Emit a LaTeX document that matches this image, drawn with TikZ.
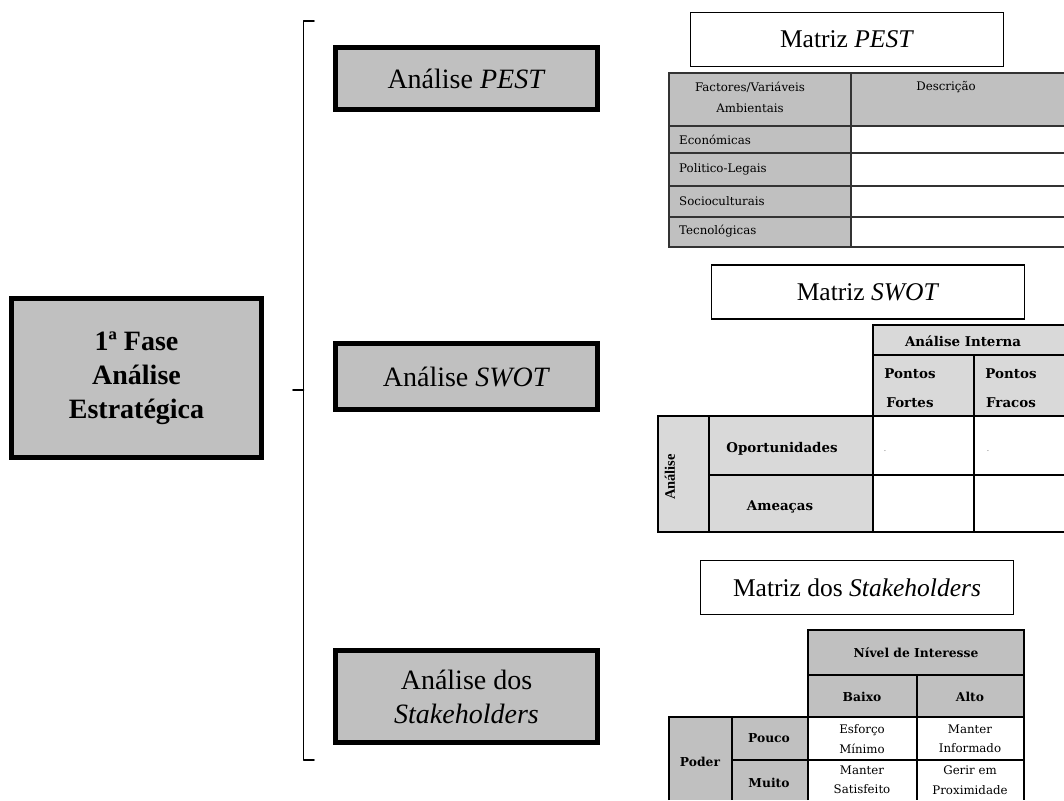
\documentclass[tikz,border=0pt]{standalone}
\usepackage{fontspec}
\setmainfont{Liberation Serif}
\newfontfamily\tabfont{DejaVu Serif}
\definecolor{boxgray}{HTML}{C0C0C0}
\definecolor{lightgray}{HTML}{D9D9D9}
\definecolor{rulegray}{HTML}{333333}
\tikzset{
  phase/.style={draw=black, line width=5pt, fill=boxgray, align=center,
    font=\fontsize{28}{34}\selectfont, inner sep=0pt},
  title/.style={draw=black, line width=1.6pt, fill=white, align=center,
    font=\fontsize{25.5}{30}\selectfont, inner sep=0pt},
  celltxt/.style={font=\tabfont\fontsize{11.8}{19.5}\selectfont, inner sep=0pt, align=center},
  cellbold/.style={font=\tabfont\bfseries\fontsize{12.3}{29}\selectfont, inner sep=0pt, align=center},
  swotbold/.style={font=\tabfont\bfseries\fontsize{13.4}{29}\selectfont, inner sep=0pt, align=center},
  grid/.style={draw=black, line width=1.6pt},
  pestgrid/.style={draw=rulegray, line width=2pt},
}
\begin{document}
\begin{tikzpicture}[x=1pt, y=-1pt]
\useasboundingbox (0,0) rectangle (1064,800);

% ---- phase and analysis boxes
\node[phase, minimum width=250pt, minimum height=159pt] (fase) at (136.5,378)
  {\bfseries 1ª Fase\\ \bfseries Análise\\ \bfseries Estratégica};
\node[phase, minimum width=262pt, minimum height=62pt] (pest) at (466.5,78.5)
  {Análise \textit{PEST}};
\node[phase, minimum width=262pt, minimum height=66pt] (swot) at (466.5,376.5)
  {Análise \textit{SWOT}};
\node[phase, minimum width=262pt, minimum height=92pt] (stake) at (466.5,696.5)
  {Análise dos\\ \textit{Stakeholders}};

% ---- bracket grouping the three analyses
\coordinate (btop) at (314,21);
\coordinate (bbot) at (314,760);
\coordinate (bmid) at (293,390);
\draw[line width=1.6pt, line cap=round, line join=round]
  (btop) -- (303.5,21) -- (303.5,760) -- (bbot);
\draw[line width=1.6pt, line cap=round] (bmid) -- (303.5,390);

% ---- titles of the matrices
\node[title, minimum width=313pt, minimum height=54pt] (tpest) at (847,39.5)
  {Matriz \textit{PEST}};
\node[title, minimum width=313pt, minimum height=54pt] (tswot) at (868,292)
  {Matriz \textit{SWOT}};
\node[title, minimum width=313pt, minimum height=54pt] (tstake) at (857,587.5)
  {Matriz dos \textit{Stakeholders}};

% ---- PEST matrix
\fill[boxgray] (669,73) rectangle (851,247);
\fill[boxgray] (851,73) rectangle (1064,126);
\draw[pestgrid] (1064,73) -- (669,73) -- (669,247) -- (1064,247);
\draw[pestgrid] (851,73) -- (851,247);
\foreach \yy in {126,153,186,217} \draw[pestgrid] (669,\yy) -- (1064,\yy);
\node[celltxt] (pfac) at (750,87) {Factores/Variáveis};
\node[celltxt] (pamb) at (750,108) {Ambientais};
\node[celltxt] (pdesc) at (946,87) {Descrição};
\node[celltxt, anchor=west] (peco) at (679,140) {Económicas};
\node[celltxt, anchor=west] (ppol) at (679,169) {Politico-Legais};
\node[celltxt, anchor=west] (psoc) at (679,201) {Socioculturais};
\node[celltxt, anchor=west] (ptec) at (679,231) {Tecnológicas};

% ---- SWOT matrix
\fill[lightgray] (873,325) rectangle (1064,416);
\fill[lightgray] (658,416) rectangle (873,532);
\draw[grid] (1064,325) -- (873,325) -- (873,532);
\draw[grid] (873,355) -- (1064,355);
\draw[grid] (974,355) -- (974,532);
\draw[grid] (1064,416) -- (658,416) -- (658,532) -- (1064,532);
\draw[grid] (709,416) -- (709,532);
\draw[grid] (709,475) -- (1064,475);
\node[swotbold] (sint) at (963,341) {Análise Interna};
\node[swotbold] (sfor) at (910,388) {Pontos\\Fortes};
\node[swotbold] (sfra) at (1011,388) {Pontos\\Fracos};
\node[swotbold] (sopo) at (782,449) {Oportunidades};
\node[swotbold] (samea) at (780,507) {Ameaças};
\node[font=\bfseries\fontsize{14.5}{16}\selectfont, inner sep=0pt, rotate=90] (sext) at (670,477) {Análise};
\node[celltxt, font=\tabfont\fontsize{6}{7}\selectfont] (sdot1) at (885,451) {.};
\node[celltxt, font=\tabfont\fontsize{6}{7}\selectfont] (sdot2) at (988,451) {.};

% ---- stakeholders matrix
\fill[boxgray] (808,630) rectangle (1024,717);
\fill[boxgray] (669,717) rectangle (808,800);
\draw[grid] (808,800) -- (808,630) -- (1024,630) -- (1024,800);
\draw[grid] (808,675) -- (1024,675);
\draw[grid] (917,675) -- (917,800);
\draw[grid] (669,800) -- (669,717) -- (1024,717);
\draw[grid] (732,717) -- (732,800);
\draw[grid] (732,760) -- (1024,760);
\node[cellbold] (kniv) at (916,653) {Nível de Interesse};
\node[cellbold] (kbai) at (862,697) {Baixo};
\node[cellbold] (kalt) at (970,697) {Alto};
\node[cellbold] (kpod) at (700,762) {Poder};
\node[cellbold] (kpou) at (769,738) {Pouco};
\node[cellbold] (kmui) at (769,783) {Muito};
\node[celltxt] (kesf) at (862,739) {Esforço\\Mínimo};
\node[celltxt] (kinf) at (970,739) {Manter\\Informado};
\node[celltxt] (ksat) at (862,780) {Manter\\Satisfeito};
\node[celltxt] (kger) at (970,780) {Gerir em\\Proximidade};
\end{tikzpicture}
\end{document}
